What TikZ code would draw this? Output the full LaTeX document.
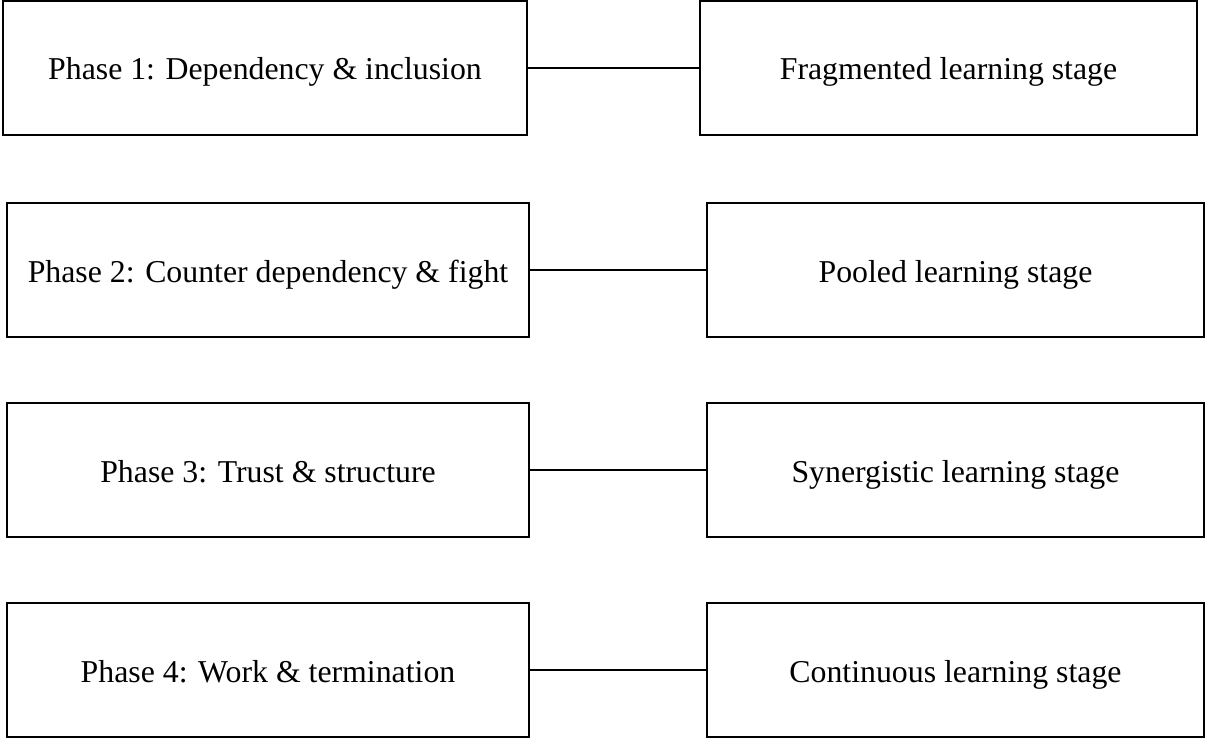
\documentclass[tikz,border=0pt]{standalone}
\usepackage{fontspec}
\setmainfont{Liberation Serif}
\usepackage{xcolor}
\usepackage{tikz}
\usetikzlibrary{positioning}
\definecolor{linec}{HTML}{000000}
\tikzset{
  phasebox/.style={draw=linec,line width=1pt,align=center,inner sep=0pt,minimum height=67pt,
    text height=12pt,text depth=0pt,font=\fontsize{15.9}{19}\selectfont},
  link/.style={draw=linec,line width=0.9pt}
}
\begin{document}
\begin{tikzpicture}[x=0.5pt,y=-0.5pt]
\useasboundingbox (0,0) rectangle (1205,738);
\node[phasebox,minimum width=262pt] (ph1) at (265,68) {Phase 1: Dependency \& inclusion};
\node[phasebox,minimum width=248.5pt] (st1) at (948.5,68) {Fragmented learning stage};
\node[phasebox,minimum width=261pt] (ph2) at (268,270) {Phase 2: Counter dependency \& fight};
\node[phasebox,minimum width=248.5pt] (st2) at (955.5,270) {Pooled learning stage};
\node[phasebox,minimum width=261pt] (ph3) at (268,470) {Phase 3: Trust \& structure};
\node[phasebox,minimum width=248.5pt] (st3) at (955.5,470) {Synergistic learning stage};
\node[phasebox,minimum width=261pt] (ph4) at (268,670) {Phase 4: Work \& termination};
\node[phasebox,minimum width=248.5pt] (st4) at (955.5,670) {Continuous learning stage};
\draw[link] (ph1) -- (st1);
\draw[link] (ph2) -- (st2);
\draw[link] (ph3) -- (st3);
\draw[link] (ph4) -- (st4);
\end{tikzpicture}
\end{document}
